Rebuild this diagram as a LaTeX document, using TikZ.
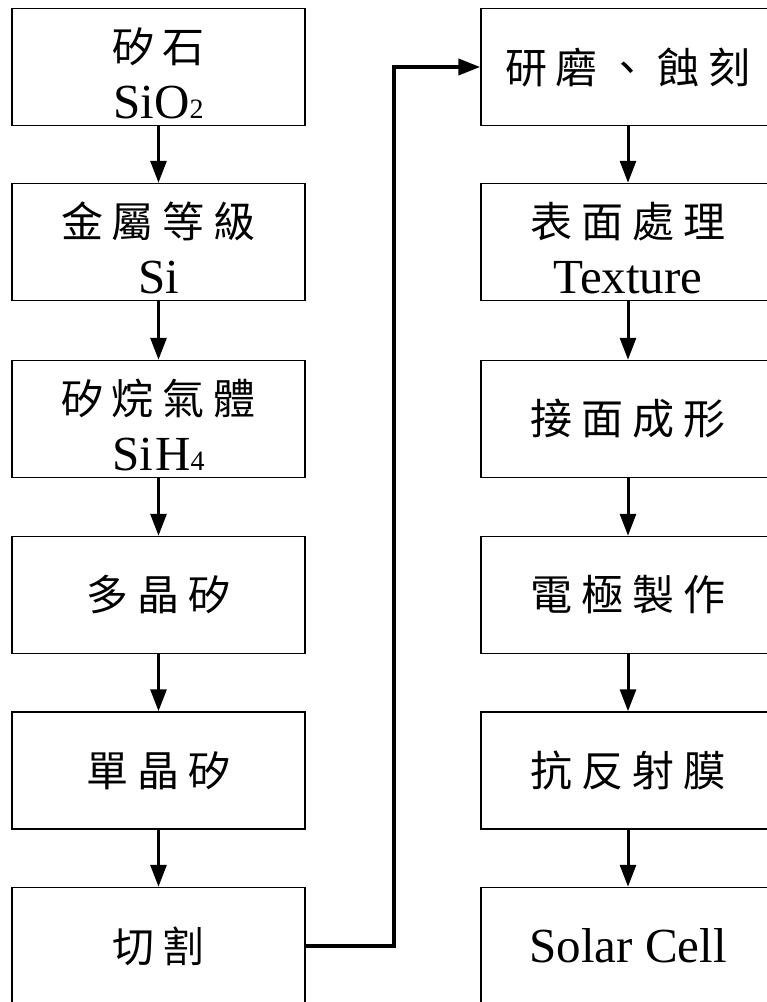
\documentclass[tikz,border=0pt]{standalone}
\usepackage{fontspec}
\setmainfont{Liberation Serif}
\newfontfamily\cjk{Noto Sans CJK TC}
\usetikzlibrary{arrows.meta}
\newcommand\zh[1]{{\cjk\fontsize{42}{56}\selectfont #1}}
\newcommand\zhtop[1]{{\cjk\fontsize{42}{56}\selectfont\rule{0pt}{48pt}#1}}
\newcommand\sbs[1]{{\fontsize{28}{28}\selectfont #1}}
\newcommand\gp{\kern9pt}
\tikzset{
  box/.style={draw, line width=1.5pt, minimum width=293pt, minimum height=117pt,
    inner sep=0pt, align=center, font=\fontsize{49}{56}\selectfont},
  flow/.style={line width=3pt, -{Triangle[length=22pt,width=16pt]}},
  conn/.style={line width=4pt, -{Triangle[length=22pt,width=16pt]}}
}
\begin{document}
\begin{tikzpicture}[x=1pt,y=-1pt]
\clip (0,0) rectangle (767,1002);
\fill[white] (0,0) rectangle (767,1002);
% left column
\node[box] (l1) at (158.5,67) {\zhtop{矽\gp 石}\\SiO\sbs{2}};
\node[box] (l2) at (158.5,242) {\zhtop{金\gp 屬\gp 等\gp 級}\\Si};
\node[box] (l3) at (158.5,419) {\zhtop{矽\gp 烷\gp 氣\gp 體}\\Si\kern2pt H\sbs{4}};
\node[box] (l4) at (158.5,595) {\zh{多\gp 晶\gp 矽}};
\node[box] (l5) at (158.5,770.5) {\zh{單\gp 晶\gp 矽}};
\node[box] (l6) at (158.5,946) {\zh{切\gp 割}};
% right column
\node[box, minimum width=294pt] (r1) at (628,67) {\zh{研\gp 磨\gp 、\gp 蝕\gp 刻}};
\node[box, minimum width=294pt] (r2) at (628,242) {\zhtop{表\gp 面\gp 處\gp 理}\\Texture};
\node[box, minimum width=294pt] (r3) at (628,419) {\zh{接\gp 面\gp 成\gp 形}};
\node[box, minimum width=294pt] (r4) at (628,595) {\zh{電\gp 極\gp 製\gp 作}};
\node[box, minimum width=294pt] (r5) at (628,770.5) {\zh{抗\gp 反\gp 射\gp 膜}};
\node[box, minimum width=294pt] (r6) at (628,946) {Solar Cell};
% arrows
\foreach \a/\b in {l1/l2,l2/l3,l3/l4,l4/l5,l5/l6,r1/r2,r2/r3,r3/r4,r4/r5,r5/r6}
  \draw[flow] (\a.south) -- (\b.north);
\draw[conn] (l6.east) -- ++(88,0) |- (r1.west);
\end{tikzpicture}
\end{document}
